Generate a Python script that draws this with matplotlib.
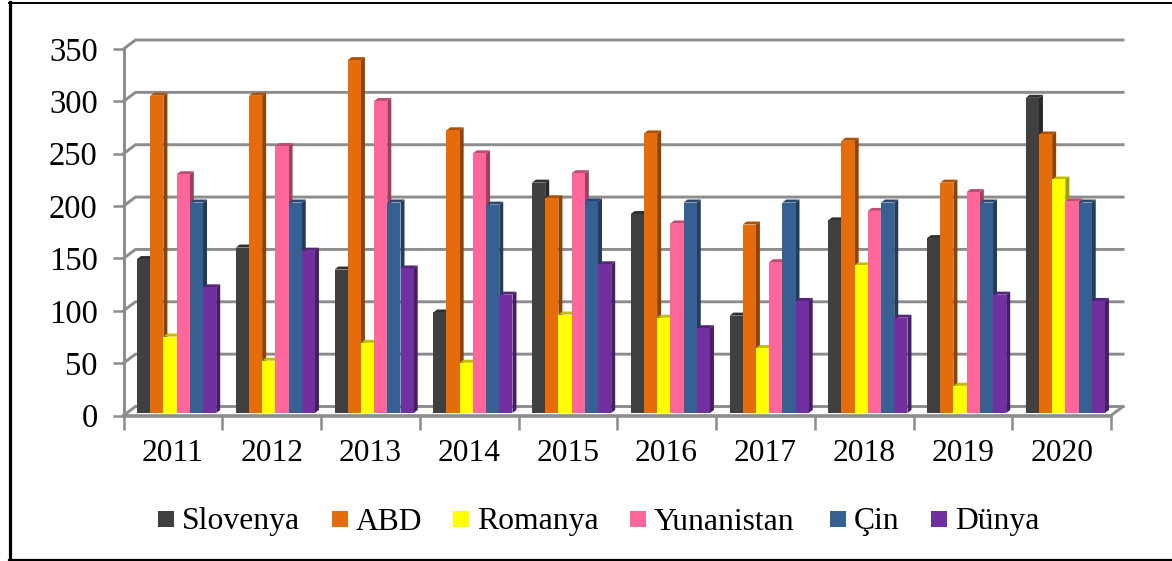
import numpy as np
import matplotlib
matplotlib.use('Agg')
import matplotlib.pyplot as plt
from matplotlib.lines import Line2D
from matplotlib.patches import Polygon, Rectangle
from matplotlib.colors import to_rgb

years = ['2011', '2012', '2013', '2014', '2015', '2016', '2017', '2018', '2019', '2020']
yticks = [0, 50, 100, 150, 200, 250, 300, 350]
names = ['Slovenya', 'ABD', 'Romanya', 'Yunanistan', 'Çin', 'Dünya']
colors = ['#404040', '#E46C0A', '#FFFF00', '#FF6699', '#376092', '#7030A0']

slovenya = [147, 158, 137, 96, 220, 190, 93, 184, 167, 301]
abd = [303, 303, 337, 270, 205, 267, 180, 260, 220, 266]
romanya = [73, 50, 67, 48, 94, 91, 62, 141, 26, 223]
yunanistan = [228, 255, 298, 248, 229, 181, 144, 193, 211, 202]
cin = [201, 201, 201, 199, 202, 201, 201, 201, 201, 201]
dunya = [120, 155, 138, 113, 142, 81, 107, 91, 113, 107]
series = [slovenya, abd, romanya, yunanistan, cin, dunya]

W, H = 1172, 561
plt.rcParams['font.family'] = ['Liberation Serif', 'DejaVu Serif']
fig = plt.figure(figsize=(W / 100, H / 100), dpi=100)

# outer frame, the right side is cut off in the picture
frame = [([10 / W, 10 / W], [1 - 2 / H, 1 - 560 / H], 2.3),
         ([8.5 / W, 1], [1 - 2.5 / H, 1 - 2.5 / H], 1.4),
         ([8.5 / W, 1], [1 - 560 / H, 1 - 560 / H], 2.3)]
for fx, fy, lw in frame:
    fig.add_artist(Line2D(fx, fy, color='black', lw=lw, transform=fig.transFigure))

x0, x1, y0, y350 = 123.5, 1111, 415.5, 49
ax = fig.add_axes([x0 / W, 1 - y0 / H, (x1 - x0) / W, (y0 - y350) / H])
ax.set_xlim(0, 10)
ax.set_ylim(0, 350)
ax.patch.set_alpha(0)
for s in ax.spines.values():
    s.set_visible(False)

ux = 10 / (x1 - x0)  # data units per pixel
uy = 350 / (y0 - y350)
gray = '#8C8C8C'

# back wall offset of the 3d box
wx, wy = 12 * ux, 9 * uy
for v in yticks:
    ax.plot([0, wx, 10 + wx], [v, v + wy, v + wy], color=gray, lw=2.1, clip_on=False,
            solid_joinstyle='miter', zorder=1)
ax.plot([10, 10 + wx], [0, wy], color=gray, lw=2.1, clip_on=False, zorder=1)
ax.plot([0, 10], [0, 0], color=gray, lw=2.6, clip_on=False, zorder=5)
ax.plot([0, 0], [0, 350], color=gray, lw=2.1, clip_on=False, zorder=1)

ax.set_xticks(range(11))
ax.set_xticklabels([])
ax.set_yticks(yticks)
ax.set_yticklabels([str(v) for v in yticks], fontsize=23.5)
ax.tick_params(axis='y', length=8, width=1.8, color=gray, pad=10.5)
ax.tick_params(axis='x', length=10, width=1.8, color=gray)
for i, y in enumerate(years):
    ax.text(i + 0.5, -36, y, ha='center', va='center', fontsize=22.7, clip_on=False)

# bars with a small 3d side and top
bw = 13.2 * ux
dx, dy = 4 * ux, 3 * uy
lift = 2.5 * uy
start = (137 - x0) * ux
z = 10
for k, vals in enumerate(series):
    rgb = np.array(to_rgb(colors[k]))
    side = tuple(rgb * 0.62)
    top = tuple(rgb * 0.75)
    pos = np.arange(10) + start + k * bw
    for i, v in enumerate(vals):
        l, r = pos[i], pos[i] + bw
        ax.add_patch(Polygon([(r, lift), (r + dx, lift + dy), (r + dx, v + lift + dy), (r, v + lift)],
                             fc=side, ec='none', zorder=z, clip_on=False))
        ax.add_patch(Polygon([(l, v + lift), (l + dx, v + lift + dy), (r + dx, v + lift + dy), (r, v + lift)],
                             fc=top, ec='none', zorder=z, clip_on=False))
    ax.bar(pos, vals, width=bw, bottom=lift, align='edge', color=colors[k], zorder=z + 0.5)
    z += 1

# legend
marks = [158, 332, 453, 630, 830, 931]
for name, c, mx in zip(names, colors, marks):
    fig.add_artist(Rectangle((mx / W, 1 - 527 / H), 16 / W, 16 / H, fc=c, ec='none',
                             transform=fig.transFigure))
    fig.text((mx + 24) / W, 1 - 522 / H, name, fontsize=22.8, va='center', ha='left')

fig.savefig('out.png', dpi=100)
